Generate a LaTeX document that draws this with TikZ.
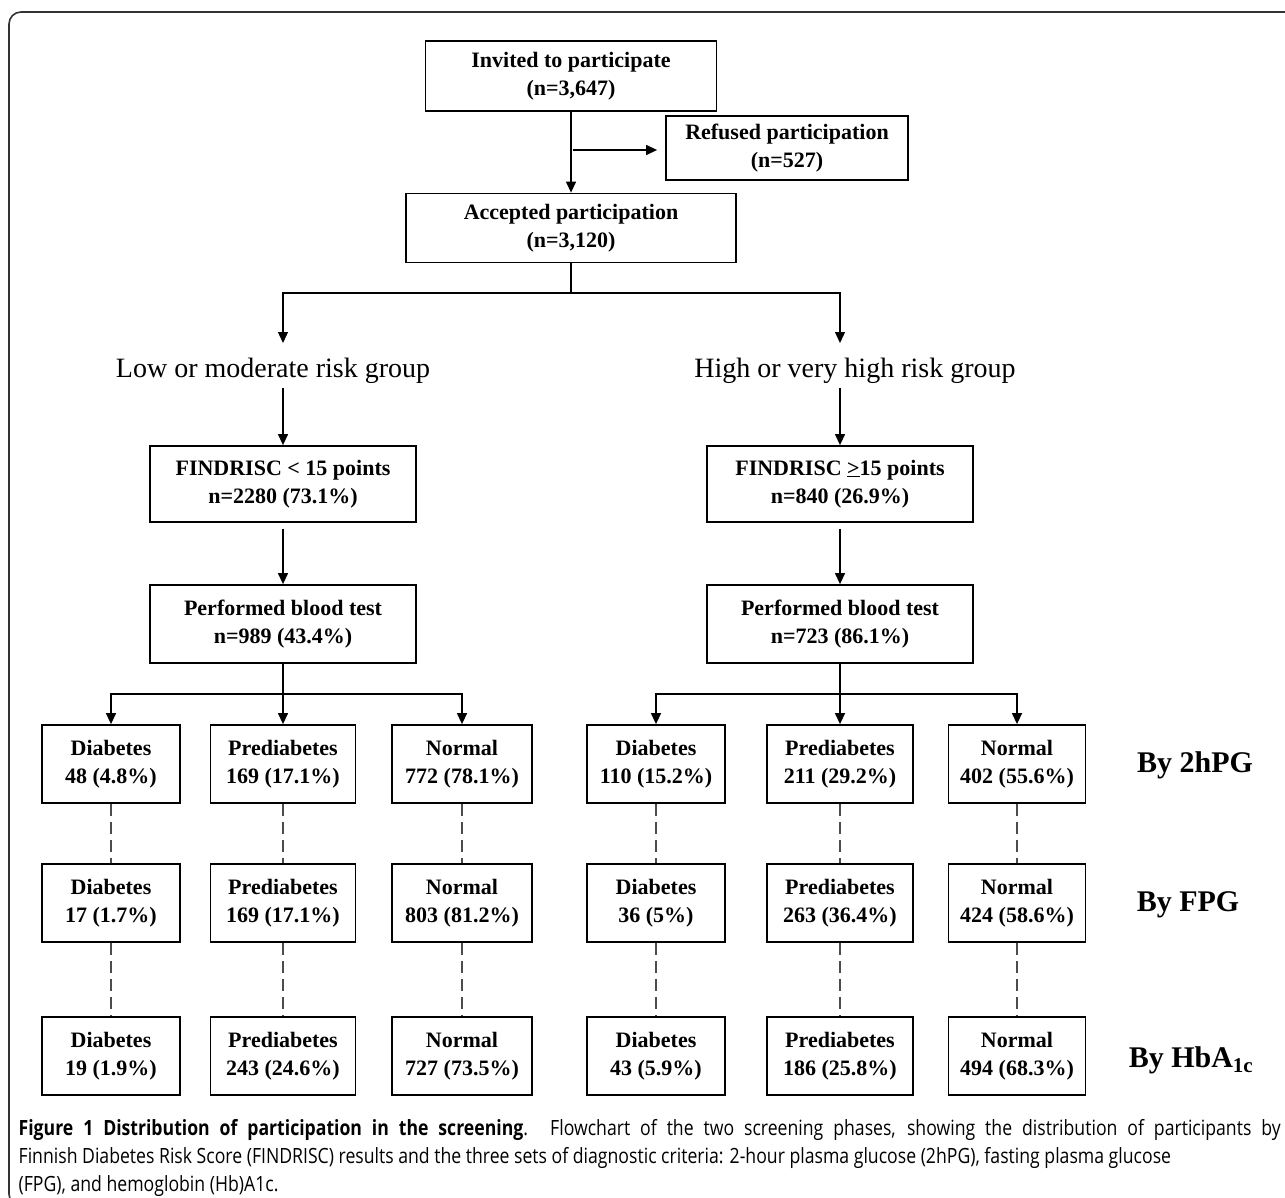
\documentclass[tikz,border=0pt]{standalone}
\usepackage{fontspec}
\setmainfont{Liberation Serif}
\newfontfamily\capfont[FakeStretch=0.84]{Open Sans}
\usetikzlibrary{arrows.meta}

\begin{document}
\begin{tikzpicture}[x=1pt, y=-1pt, line width=1.3pt, >={Triangle[length=11pt,width=10pt]}]
 \useasboundingbox (0,0) rectangle (1285,1198);
 \tikzset{box/.style={draw, line width=1.8pt, align=center, inner sep=0pt, minimum height=78pt,
            font=\bfseries\fontsize{22}{28}\selectfont},
          head/.style={font=\fontsize{28}{30}\selectfont},
          crit/.style={font=\bfseries\fontsize{30}{32}\selectfont},
          link/.style={draw=black!70, line width=1.3pt, dash pattern=on 12pt off 6pt}}
 % frame
 \draw[line width=1.6pt, draw=black!80, rounded corners=12pt] (1295,12) -- (9,12) -- (9,1206) -- (60,1206);
 % recruitment
 \node (invited) [box, minimum width=291pt, minimum height=70pt] at (571,76) {Invited to participate\\(n=3,647)};
 \node (refused) [box, minimum width=242pt, minimum height=64pt] at (787,148) {Refused participation\\(n=527)};
 \node (accepted) [box, minimum width=330pt, minimum height=69pt] at (571,228) {Accepted participation\\(n=3,120)};
 \coordinate (refuse) at (573,150);
 \coordinate (split) at (571,293);
 \draw[->] (invited) -- (accepted);
 \draw[->, shorten >=8pt] (refuse) -- (refuse -| refused.west);
 % risk groups
 \node (low) [head] at (273,371) {Low or moderate risk group};
 \node (high) [head] at (855,371) {High or very high risk group};
 \coordinate (lowtip) at (283,343);
 \coordinate (hightip) at (840,343);
 \draw[->] (accepted) -- (split) -| (lowtip);
 \draw[->] (split) -| (hightip);
 \node (findL) [box, minimum width=266pt, minimum height=76pt] at (283,484) {FINDRISC < 15 points\\n=2280 (73.1\%)};
 \node (findR) [box, minimum width=266pt, minimum height=76pt] at (840,484) {FINDRISC \underline{>}15 points\\n=840 (26.9\%)};
 \node (perfL) [box, minimum width=266pt] at (283,624) {Performed blood test\\n=989 (43.4\%)};
 \node (perfR) [box, minimum width=266pt] at (840,624) {Performed blood test\\n=723 (86.1\%)};
 \draw[->] (low.south -| findL) -- (findL);
 \draw[->] (high.south -| findR) -- (findR);
 \draw[->, shorten <=6pt] (findL) -- (perfL);
 \draw[->, shorten <=6pt] (findR) -- (perfR);
 % by 2hPG
 \node (dL1) [box, minimum width=138pt] at (111,764) {Diabetes\\48 (4.8\%)};
 \node (pL1) [box, minimum width=145pt] at (283,764) {Prediabetes\\169 (17.1\%)};
 \node (nL1) [box, minimum width=140pt] at (462,764) {Normal\\772 (78.1\%)};
 \node (dR1) [box, minimum width=138pt] at (656,764) {Diabetes\\110 (15.2\%)};
 \node (pR1) [box, minimum width=146pt] at (840,764) {Prediabetes\\211 (29.2\%)};
 \node (nR1) [box, minimum width=137pt] at (1017,764) {Normal\\402 (55.6\%)};
 \coordinate (splitL) at (283,694);
 \coordinate (splitR) at (840,694);
 \draw[->] (perfL) -- (pL1);
 \draw[->] (splitL) -| (dL1);
 \draw[->] (splitL) -| (nL1);
 \draw[->] (perfR) -- (pR1);
 \draw[->] (splitR) -| (dR1);
 \draw[->] (splitR) -| (nR1);
 % by FPG
 \node (dL2) [box, minimum width=138pt] at (111,903) {Diabetes\\17 (1.7\%)};
 \node (pL2) [box, minimum width=145pt] at (283,903) {Prediabetes\\169 (17.1\%)};
 \node (nL2) [box, minimum width=140pt] at (462,903) {Normal\\803 (81.2\%)};
 \node (dR2) [box, minimum width=138pt] at (656,903) {Diabetes\\36 (5\%)};
 \node (pR2) [box, minimum width=146pt] at (840,903) {Prediabetes\\263 (36.4\%)};
 \node (nR2) [box, minimum width=137pt] at (1017,903) {Normal\\424 (58.6\%)};
 % by HbA1c
 \node (dL3) [box, minimum width=138pt] at (111,1056) {Diabetes\\19 (1.9\%)};
 \node (pL3) [box, minimum width=145pt] at (283,1056) {Prediabetes\\243 (24.6\%)};
 \node (nL3) [box, minimum width=140pt] at (462,1056) {Normal\\727 (73.5\%)};
 \node (dR3) [box, minimum width=138pt] at (656,1056) {Diabetes\\43 (5.9\%)};
 \node (pR3) [box, minimum width=146pt] at (840,1056) {Prediabetes\\186 (25.8\%)};
 \node (nR3) [box, minimum width=137pt] at (1017,1056) {Normal\\494 (68.3\%)};
 \draw[link] (dL1) -- (dL2) -- (dL3);
 \draw[link] (pL1) -- (pL2) -- (pL3);
 \draw[link] (nL1) -- (nL2) -- (nL3);
 \draw[link] (dR1) -- (dR2) -- (dR3);
 \draw[link] (pR1) -- (pR2) -- (pR3);
 \draw[link] (nR1) -- (nR2) -- (nR3);
 % criteria
 \node (by2h) [crit] at (1195,765) {By 2hPG};
 \node (byfpg) [crit] at (1188,905) {By FPG};
 \node (byhba) [crit] at (1191,1060) {By HbA\textsubscript{1c}};
 % caption
 \node (caption) [anchor=north west, text width=1262pt, align=justify, inner sep=0pt,
   font=\capfont\fontsize{21}{28}\selectfont] at (18,1119)
   {\textbf{Figure 1 Distribution of participation in the screening}. Flowchart of the two screening phases, showing the distribution of participants by\linebreak
    Finnish Diabetes Risk Score (FINDRISC) results and the three sets of diagnostic criteria: 2-hour plasma glucose (2hPG), fasting plasma glucose\newline
    (FPG), and hemoglobin (Hb)A1c.};
\end{tikzpicture}
\end{document}
